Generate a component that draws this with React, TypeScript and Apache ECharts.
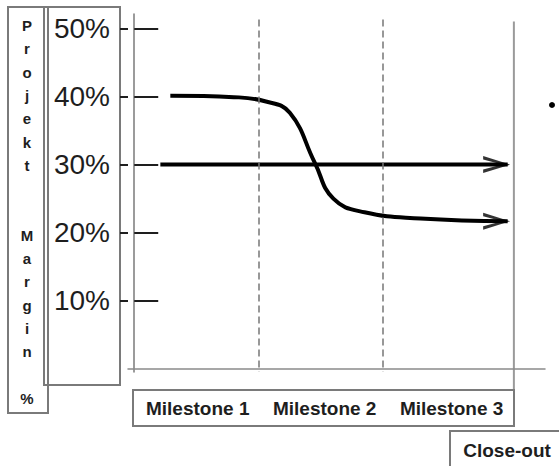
import React, { useEffect, useRef } from 'react';
import * as echarts from 'echarts';

// ---- data ----
const yTickValues = [10, 20, 30, 40, 50];
const titleLines = ['P', 'r', 'o', 'j', 'e', 'k', 't', '', '', 'M', 'a', 'r', 'g', 'i', 'n', '', '%'];
const milestoneLabels = ['Milestone 1', 'Milestone 2', 'Milestone 3'];
const milestoneValues = [1, 2];
const closeOutValue = 3.05;
const closeOutLabel = 'Close-out';
const flatX = [0.21, 3.0];
const flatY = [30, 30];
const curveX = [0.29, 0.8, 1.05, 1.25, 1.45, 1.6, 1.85, 2.3, 3.0];
const curveY = [40.1, 39.9, 39.3, 37.6, 30.3, 25.0, 23.0, 22.1, 21.7];
const arrowX = [3.02, 3.02];
const arrowY = [30, 21.7];

const X_MIN = -0.05;
const X_MAX = 3.3;
const Y_MIN = -0.43;
const Y_MAX = 52.1;

const FONT = '"Liberation Sans", Arial, sans-serif';
const BOX = '#7a7a7a';
const INK = '#1e1e1e';
const ARROW = 'path://M0,0 L27,8.5 L0,17 L0,13.5 L19,8.5 L0,3.5 Z';

export default function App() {
  const ref = useRef<HTMLDivElement>(null);
  useEffect(() => {
    if (!ref.current) return;
    const chart = echarts.init(ref.current, undefined, { renderer: 'svg' });
    const dashedData = milestoneValues.map((m) => [
      { coord: [m, 51.3] },
      { coord: [m, -0.4] },
    ]);
    chart.setOption({
      animation: false,
      backgroundColor: '#ffffff',
      grid: { left: 128, right: 14, top: 14, bottom: 94, containLabel: false, outerBoundsMode: 'none' },
      xAxis: {
        type: 'value',
        min: X_MIN,
        max: X_MAX,
        axisLine: { show: true, lineStyle: { color: '#8a8a8a', width: 1.5 } },
        axisTick: { show: false },
        axisLabel: { show: false },
        splitLine: { show: false },
      },
      yAxis: [
        {
          type: 'value',
          min: Y_MIN,
          max: Y_MAX,
          position: 'left',
          axisLine: { show: true, lineStyle: { color: '#7a7a7a', width: 1.5 } },
          axisTick: {
            show: true,
            inside: true,
            length: 24,
            customValues: yTickValues,
            lineStyle: { color: INK, width: 2 },
          },
          axisLabel: {
            show: true,
            customValues: yTickValues,
            formatter: (v: number) => `${Math.round(v)}%`,
            fontSize: 28,
            fontFamily: FONT,
            color: INK,
            margin: 18,
          },
          splitLine: { show: false },
        },
        {
          type: 'value',
          min: Y_MIN,
          max: Y_MAX,
          position: 'left',
          offset: 0,
          axisLine: { show: false },
          axisTick: {
            show: true,
            inside: false,
            length: 8,
            customValues: yTickValues,
            lineStyle: { color: INK, width: 2 },
          },
          axisLabel: { show: false },
          splitLine: { show: false },
        },
      ],
      series: [
        {
          type: 'line',
          data: flatX.map((x, i) => [x, flatY[i]]),
          symbol: 'none',
          lineStyle: { color: '#000', width: 4 },
          markLine: {
            silent: true,
            symbol: ['none', 'none'],
            label: { show: false },
            lineStyle: { color: '#777', width: 1.5, type: [7, 4] },
            data: dashedData,
          },
          z: 3,
        },
        {
          type: 'line',
          data: curveX.map((x, i) => [x, curveY[i]]),
          smooth: 0.45,
          symbol: 'none',
          lineStyle: { color: '#000', width: 4 },
          z: 3,
        },
        {
          type: 'scatter',
          data: arrowX.map((x, i) => [x, arrowY[i]]),
          symbol: ARROW,
          symbolSize: [27, 17],
          symbolOffset: [-13.5, 0],
          itemStyle: { color: '#000' },
          silent: true,
          z: 4,
        },
      ],
    });

    const top = chart.convertToPixel({ gridIndex: 0 }, [closeOutValue, 51.0]) as number[];
    const ms1 = chart.convertToPixel({ gridIndex: 0 }, [0.51, 0]) as number[];
    const ms2 = chart.convertToPixel({ gridIndex: 0 }, [1.53, 0]) as number[];
    const ms3 = chart.convertToPixel({ gridIndex: 0 }, [2.55, 0]) as number[];
    const msX = [ms1[0], ms2[0], ms3[0]];

    chart.setOption({
      graphic: [
        { type: 'rect', shape: { x: 8, y: 7, width: 40, height: 406 }, style: { fill: 'none', stroke: BOX, lineWidth: 2 } },
        { type: 'rect', shape: { x: 44, y: 7, width: 76, height: 378 }, style: { fill: 'none', stroke: BOX, lineWidth: 2 } },
        {
          type: 'text',
          x: 27,
          y: 14,
          style: {
            text: titleLines.join('\n'),
            fontSize: 15,
            fontWeight: 'bold',
            fontFamily: FONT,
            lineHeight: 23.3,
            align: 'center',
            verticalAlign: 'top',
            fill: INK,
          },
        },
        {
          type: 'line',
          shape: { x1: top[0], y1: top[1], x2: top[0], y2: 390 },
          style: { stroke: '#9a9a9a', lineWidth: 2 },
        },
        { type: 'rect', shape: { x: 133, y: 390, width: 381, height: 36 }, style: { fill: '#fff', stroke: BOX, lineWidth: 2 } },
        ...milestoneLabels.map((t, i) => ({
          type: 'text',
          x: msX[i],
          y: 408,
          style: {
            text: t,
            fontSize: 19,
            fontWeight: 'bold',
            fontFamily: FONT,
            align: 'center',
            verticalAlign: 'middle',
            fill: INK,
          },
        })),
        { type: 'rect', shape: { x: 450, y: 431, width: 120, height: 50 }, style: { fill: '#fff', stroke: BOX, lineWidth: 2 } },
        {
          type: 'text',
          x: 507,
          y: 450,
          style: {
            text: closeOutLabel,
            fontSize: 19,
            fontWeight: 'bold',
            fontFamily: FONT,
            align: 'center',
            verticalAlign: 'middle',
            fill: INK,
          },
        },
        { type: 'circle', shape: { cx: 552, cy: 105, r: 3 }, style: { fill: '#000' } },
      ],
    });
    return () => chart.dispose();
  }, []);
  return (
    <div
      ref={ref}
      style={{ position: 'fixed', left: 0, top: 0, width: 559, height: 466, background: '#fff' }}
    />
  );
}
